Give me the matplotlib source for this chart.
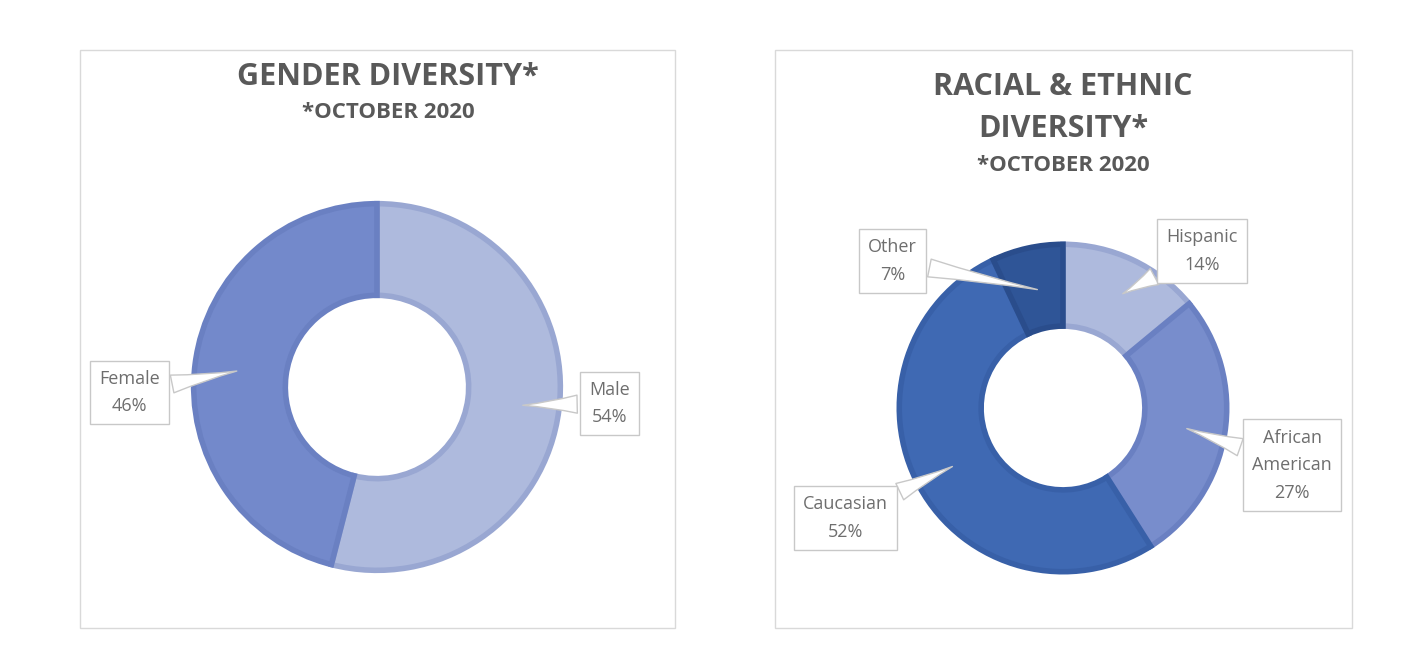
import matplotlib
matplotlib.use("Agg")
import matplotlib.pyplot as plt
from matplotlib.patches import Rectangle

# ---- data ----
gender_labels = ["Male", "Female"]
gender_values = [54, 46]
race_labels = ["Hispanic", "African\nAmerican", "Caucasian", "Other"]
race_values = [14, 27, 52, 7]

# ---- styles ----
gender_colors = ["#AEBADD", "#7389CB"]
gender_edges = ["#99A7D2", "#6A80C2"]
race_colors = ["#AEBADD", "#788DCC", "#3F69B3", "#2F5597"]
race_edges = ["#99A7D2", "#6A80C2", "#3860A8", "#2A4D8C"]
TXT = "#595959"
LBL = "#6E6E6E"
FONT = ["Open Sans", "DejaVu Sans"]

W, H = 1425, 669
fig = plt.figure(figsize=(W / 100, H / 100), dpi=100)
fig.patch.set_facecolor("white")


def px_axes(x0, y0, x1, y1):
    return fig.add_axes([x0 / W, 1 - y1 / H, (x1 - x0) / W, (y1 - y0) / H])


# panel frames
for (x0, y0, x1, y1) in [(80, 50, 675, 628), (775, 50, 1352, 628)]:
    fig.patches.append(Rectangle((x0 / W, 1 - y1 / H), (x1 - x0) / W, (y1 - y0) / H,
                                 transform=fig.transFigure, fill=False,
                                 ec="#D9D9D9", lw=1.0))


def donut(ax, values, colors, edges, hole):
    wedges, _ = ax.pie(values, colors=colors, startangle=90, counterclock=False,
                       radius=1.0, wedgeprops=dict(width=1 - hole, linewidth=4))
    for w, e in zip(wedges, edges):
        w.set_edgecolor(e)
        w.set_joinstyle("miter")
    ax.set_xlim(-1.02, 1.02)
    ax.set_ylim(-1.02, 1.02)
    ax.set_aspect("equal")
    ax.axis("off")


def callout(ax, text, tip, pos):
    ax.annotate(text, xy=tip, xytext=pos, ha="center", va="center",
                fontsize=13, color=LBL, family=FONT, linespacing=1.7,
                bbox=dict(boxstyle="square,pad=0.5", fc="white", ec="#C8C8C8", lw=1),
                arrowprops=dict(arrowstyle="wedge,tail_width=1.0,shrink_factor=0.4",
                                fc="white", ec="#C8C8C8", lw=1),
                annotation_clip=False, zorder=5)


# ---- left: gender ----
axL = px_axes(194 - 4, 204 - 4, 560 + 4, 570 + 4)
donut(axL, gender_values, gender_colors, gender_edges, 0.5)
g_tips = [(0.78, -0.10), (-0.75, 0.09)]
g_pos = [(1.27, -0.09), (-1.35, -0.03)]
for lab, v, tip, pos in zip(gender_labels, gender_values, g_tips, g_pos):
    callout(axL, f"{lab}\n{v}%", tip, pos)

fig.text(388 / W, 1 - 77 / H, "GENDER DIVERSITY*", ha="center", va="center",
         fontsize=22, fontweight="bold", color=TXT, family=FONT)
fig.text(388 / W, 1 - 112 / H, "*OCTOBER 2020", ha="center", va="center",
         fontsize=16, fontweight="bold", color=TXT, family=FONT)

# ---- right: race ----
axR = px_axes(899 - 3, 244 - 3, 1227 + 3, 572 + 3)
donut(axR, race_values, race_colors, race_edges, 0.5)
r_tips = [(0.35, 0.69), (0.74, -0.12), (-0.66, -0.35), (-0.14, 0.72)]
r_pos = [(0.85, 0.96), (1.40, -0.35), (-1.33, -0.67), (-1.04, 0.90)]
for lab, v, tip, pos in zip(race_labels, race_values, r_tips, r_pos):
    callout(axR, f"{lab}\n{v}%", tip, pos)

fig.text(1063 / W, 1 - 87 / H, "RACIAL & ETHNIC", ha="center", va="center",
         fontsize=22, fontweight="bold", color=TXT, family=FONT)
fig.text(1063 / W, 1 - 129 / H, "DIVERSITY*", ha="center", va="center",
         fontsize=22, fontweight="bold", color=TXT, family=FONT)
fig.text(1063 / W, 1 - 165 / H, "*OCTOBER 2020", ha="center", va="center",
         fontsize=16, fontweight="bold", color=TXT, family=FONT)

fig.savefig("out.png", dpi=100, facecolor="white")
